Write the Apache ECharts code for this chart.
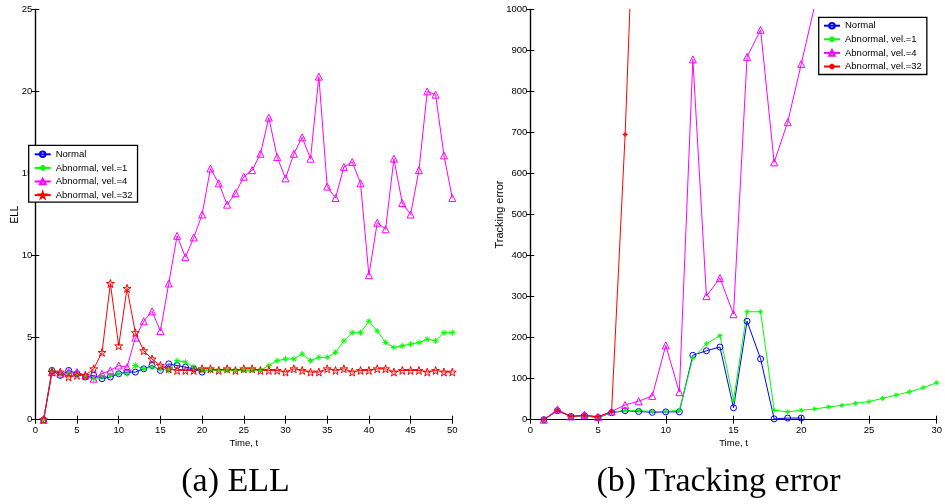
<!DOCTYPE html>
<html>
<head>
<meta charset="utf-8">
<script src="https://cdn.jsdelivr.net/npm/echarts@6/dist/echarts.min.js"></script>
<style>
html,body{margin:0;padding:0;background:#fff;}
#chart{width:945px;height:504px;}
</style>
</head>
<body>
<div id="chart"></div>
<script>
// ---------- data: panel (a) ELL ----------
const tEll = [1,2,3,4,5,6,7,8,9,10,11,12,13,14,15,16,17,18,19,20,21,22,23,24,25,26,27,28,29,30,31,32,33,34,35,36,37,38,39,40,41,42,43,44,45,46,47,48,49,50];
const ellNormal = [0,3.0,2.7,3.0,2.8,2.6,2.7,2.5,2.6,2.8,2.9,2.9,3.1,3.3,3.0,3.4,3.3,3.2,3.1,2.9];
const ellVel1 = [0,3.0,2.8,2.8,2.8,2.6,2.5,2.6,2.7,2.8,2.8,3.3,3.1,3.2,3.1,3.0,3.6,3.5,3.2,3.0,3.0,3.0,3.0,3.0,3.0,3.0,3.0,3.3,3.6,3.7,3.7,4.0,3.6,3.8,3.8,4.1,4.8,5.3,5.3,6.0,5.4,4.7,4.4,4.5,4.6,4.7,4.9,4.8,5.3,5.3];
const ellVel4 = [0,2.9,2.8,2.9,2.9,2.7,2.5,2.8,3.0,3.3,3.2,5.0,6.0,6.6,5.4,8.3,11.2,9.9,11.1,12.5,15.3,14.4,13.1,13.8,14.8,15.2,16.2,18.4,16.0,14.7,16.2,17.2,15.9,20.9,14.2,13.5,15.4,15.7,14.4,8.8,12.0,11.6,15.9,13.2,12.5,15.2,20.0,19.8,16.1,13.5];
const ellVel32 = [0,2.9,2.9,2.6,2.7,2.7,3.1,4.1,8.3,4.5,8.0,5.3,4.2,3.7,3.3,3.1,3.0,3.0,3.0,3.1,3.1,3.0,3.1,3.0,3.1,3.1,3.0,3.0,3.0,2.9,3.1,3.0,2.9,2.9,3.1,3.0,3.1,2.9,3.0,3.0,3.1,3.1,2.9,3.0,3.0,3.0,2.9,3.0,2.9,2.9];
// ---------- data: panel (b) Tracking error ----------
const tTrk = [1,2,3,4,5,6,7,8,9,10,11,12,13,14,15,16,17,18,19,20,21,22,23,24,25,26,27,28,29,30];
const trkNormal = [0,22,8,10,5,17,22,20,18,19,19,157,168,177,29,240,148,2,4,4];
const trkVel1 = [0,22,8,10,5,18,23,22,20,20,23,150,185,205,48,263,263,23,19,23,26,31,35,40,44,52,60,68,78,90];
const trkVel4 = [0,25,8,12,7,20,36,45,58,181,67,878,301,345,257,884,950,627,725,867,1010];
const trkVel32 = [0,22,8,10,7,20,695,1570];
// ---------- labels ----------
const seriesNames = ['Normal','Abnormal, vel.=1','Abnormal, vel.=4','Abnormal, vel.=32'];
const ellTicks = [0,5,10,15,20,25];
const trkTicks = [0,100,200,300,400,500,600,700,800,900,1000];

const pair = (xs, ys) => ys.map((v,i)=>[xs[i], v]);

const SANS = '"Liberation Sans",Arial,Helvetica,sans-serif';

const ASTER = 'path://M0 5L10 5M5 0L5 10M1.6 1.6L8.4 8.4M8.4 1.6L1.6 8.4';
const STAR = 'path://M5 0L6.18 3.62L10 3.62L6.9 5.86L8.09 9.51L5 7.27L1.91 9.51L3.1 5.86L0 3.62L3.82 3.62Z';

function mk(name, data, color, symbol, size, xi, yi) {
  return {
    type: 'line', name: name, data: data, xAxisIndex: xi, yAxisIndex: yi,
    symbol: symbol, symbolSize: size, showAllSymbol: true, clip: true,
    lineStyle: {color: color, width: 1},
    itemStyle: {color: 'rgba(0,0,0,0)', borderColor: color, borderWidth: 1},
    emphasis: {disabled: true}, animation: false
  };
}

const gridBase = {top: 9.3, bottom: 84.3, containLabel: false, show: false};
const axisLine = {show: true, lineStyle: {color: '#000', width: 1.2}};
const tick = {show: true, inside: true, length: 4, lineStyle: {color: '#000', width: 1}};
const lbl = {color: '#000', fontFamily: SANS, fontSize: 9.5, formatter: v => String(v)};

function xAxes(gi, max) {
  return [
    {type: 'value', gridIndex: gi, min: 0, max: max, interval: 5, position: 'bottom',
     axisLine: axisLine, axisTick: tick, splitLine: {show: false},
     axisLabel: Object.assign({margin: 6}, lbl),
     name: 'Time, t', nameLocation: 'middle', nameGap: 19, nameMoveOverlap: false,
     nameTextStyle: {color: '#000', fontFamily: SANS, fontSize: 9.5}},
    {type: 'value', gridIndex: gi, min: 0, max: max, interval: 5, position: 'top',
     axisLine: axisLine, axisTick: tick, splitLine: {show: false}, axisLabel: {show: false}}
  ];
}
function yAxes(gi, max, interval, name, nameSize, nameGap) {
  return [
    {type: 'value', gridIndex: gi, min: 0, max: max, interval: interval, position: 'left',
     axisLine: axisLine, axisTick: tick, splitLine: {show: false},
     axisLabel: Object.assign({margin: 3}, lbl),
     name: name, nameLocation: 'middle', nameGap: nameGap, nameRotate: 90, nameMoveOverlap: false,
     nameTextStyle: {color: '#000', fontFamily: SANS, fontSize: nameSize}},
    {type: 'value', gridIndex: gi, min: 0, max: max, interval: interval, position: 'right',
     axisLine: axisLine, axisTick: tick, splitLine: {show: false}, axisLabel: {show: false}}
  ];
}

const rn = seriesNames.map(n => n + '\u200b');

const legendBase = {
  orient: 'vertical', itemWidth: 16, itemHeight: 7, itemGap: 3.6,
  backgroundColor: '#fff', borderColor: '#000', borderWidth: 1.3, borderRadius: 0,
  textStyle: {color: '#000', fontFamily: SANS, fontSize: 9.5, lineHeight: 10, padding: [0,0,0,0]},
  selectedMode: false, z: 10
};

const option = {
  backgroundColor: '#fff',
  animation: false,
  grid: [
    Object.assign({left: 35.3, right: 492.7}, gridBase),
    Object.assign({left: 530.3, right: 6.7}, gridBase)
  ],
  xAxis: xAxes(0, 50).concat(xAxes(1, 30)),
  yAxis: yAxes(0, 25, 5, 'ELL', 10, 15).concat(yAxes(1, 1000, 100, 'Tracking error', 11, 25)),
  legend: [
    Object.assign({left: 28.7, top: 145.3, padding: [4,5,2,5], data: seriesNames}, legendBase),
    Object.assign({left: 818.7, top: 17.3, padding: [3.4,5,3,4.3], data: rn}, legendBase)
  ],
  series: [
    mk(seriesNames[0], pair(tEll, ellNormal), '#0000ff', 'circle', 6, 0, 0),
    mk(seriesNames[1], pair(tEll, ellVel1), '#00ff00', ASTER, 6, 0, 0),
    mk(seriesNames[2], pair(tEll, ellVel4), '#ff00ff', 'triangle', 7, 0, 0),
    mk(seriesNames[3], pair(tEll, ellVel32), '#ff0000', STAR, 8, 0, 0),
    mk(rn[0], pair(tTrk, trkNormal), '#0000ff', 'circle', 6, 2, 2),
    mk(rn[1], pair(tTrk, trkVel1), '#00ff00', ASTER, 5, 2, 2),
    mk(rn[2], pair(tTrk, trkVel4), '#ff00ff', 'triangle', 7, 2, 2),
    mk(rn[3], pair(tTrk, trkVel32), '#ff0000', ASTER, 5, 2, 2)
  ],
  graphic: [
    {type: 'text', style: {text: '(a) ELL', x: 235.5, y: 482, textAlign: 'center', textVerticalAlign: 'middle', font: '34px "Liberation Serif","Times New Roman",serif', fill: '#000'}},
    {type: 'text', style: {text: '(b) Tracking error', x: 718.5, y: 482, textAlign: 'center', textVerticalAlign: 'middle', font: '34px "Liberation Serif","Times New Roman",serif', fill: '#000'}}
  ]
};

const chart = echarts.init(document.getElementById('chart'), null, {renderer: 'canvas'});
chart.setOption(option);
</script>
</body>
</html>
